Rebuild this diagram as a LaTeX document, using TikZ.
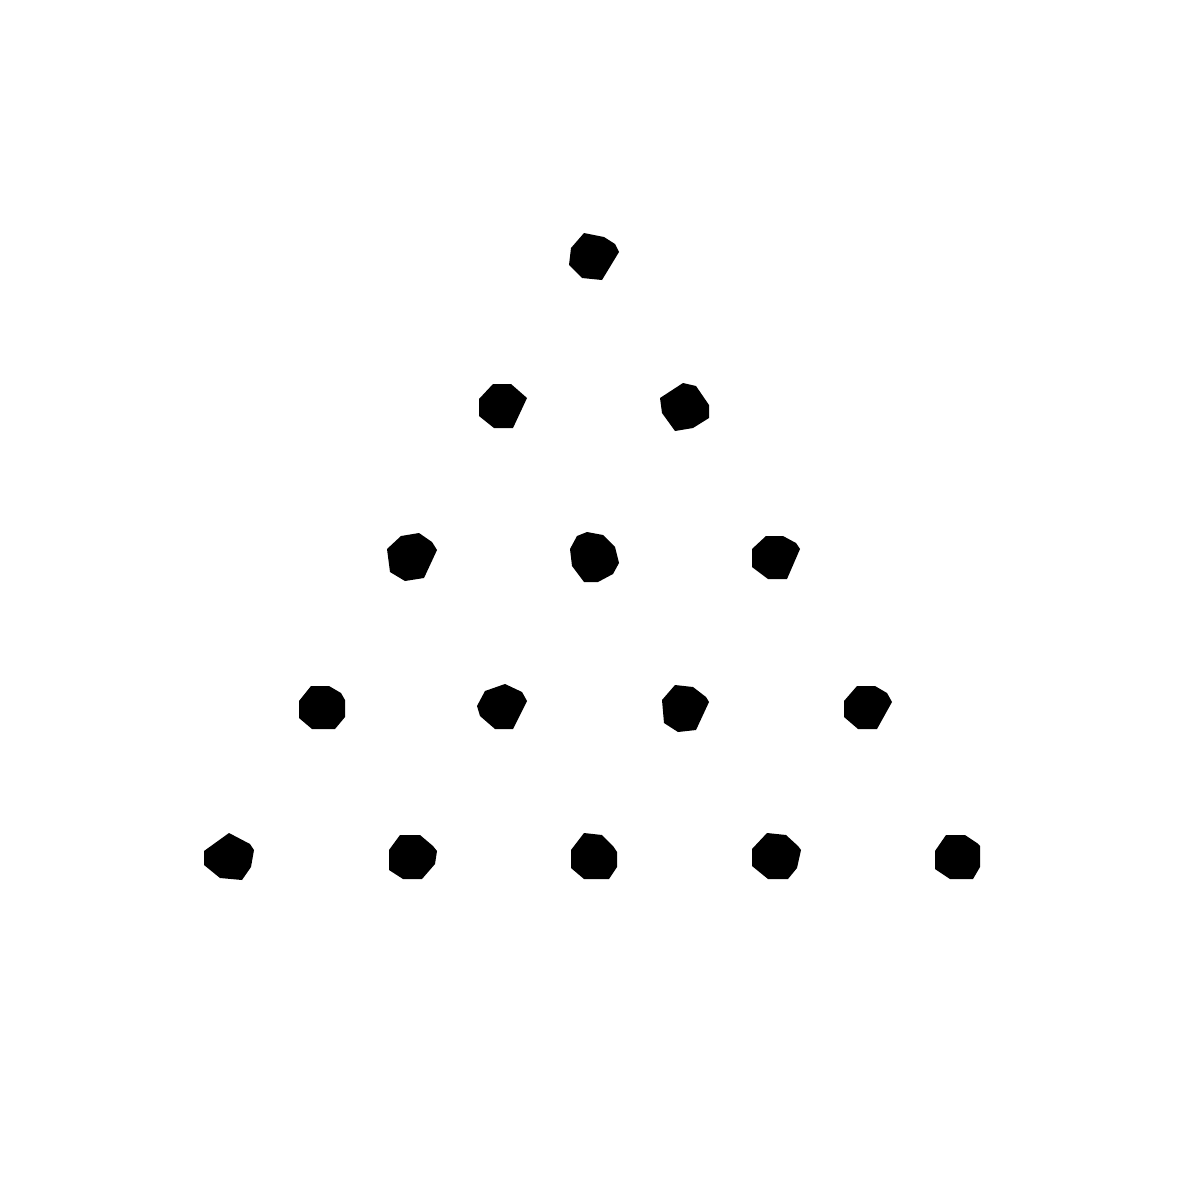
\documentclass[tikz,border=0pt]{standalone}
\begin{document}
\begin{tikzpicture}[x=0.01cm,y=-0.01cm,dotshape/.style={fill=black,draw=none}]
\useasboundingbox[fill=white] (0,0) rectangle (1200,1200);
% row 1
\fill[dotshape] (584,233)--(604,237)--(615,244)--(619,252)--(602,280)--(582,278)--(569,265)--(571,248)--cycle;
% row 2
\fill[dotshape] (493,384)--(511,384)--(527,398)--(513,428)--(494,428)--(479,416)--(479,399)--cycle;
\fill[dotshape] (683,383)--(696,386)--(709,405)--(709,418)--(693,428)--(675,431)--(662,413)--(660,398)--cycle;
% row 3
\fill[dotshape] (401,536)--(419,533)--(432,542)--(437,550)--(424,578)--(405,581)--(390,572)--(387,549)--cycle;
\fill[dotshape] (577,536)--(587,532)--(603,535)--(615,547)--(619,563)--(613,574)--(598,582)--(584,582)--(572,566)--(570,549)--cycle;
\fill[dotshape] (766,536)--(783,536)--(796,543)--(800,549)--(787,579)--(768,579)--(752,567)--(752,549)--cycle;
% row 4
\fill[dotshape] (311,686)--(329,686)--(341,693)--(345,700)--(345,717)--(335,729)--(312,729)--(299,718)--(299,701)--cycle;
\fill[dotshape] (485,691)--(505,684)--(522,692)--(527,701)--(513,729)--(495,729)--(480,716)--(477,706)--cycle;
\fill[dotshape] (675,685)--(693,687)--(706,697)--(709,702)--(696,730)--(678,732)--(664,723)--(662,700)--cycle;
\fill[dotshape] (857,686)--(875,686)--(887,693)--(892,702)--(877,729)--(858,729)--(844,717)--(844,701)--cycle;
% row 5
\fill[dotshape] (229,833)--(250,844)--(254,850)--(251,867)--(242,880)--(220,878)--(204,865)--(204,851)--cycle;
\fill[dotshape] (400,835)--(420,835)--(433,846)--(437,851)--(435,864)--(422,879)--(403,879)--(389,870)--(389,850)--cycle;
\fill[dotshape] (584,833)--(602,835)--(613,846)--(617,852)--(617,867)--(609,879)--(584,879)--(571,868)--(571,850)--cycle;
\fill[dotshape] (767,833)--(786,835)--(798,846)--(801,850)--(797,868)--(788,879)--(768,879)--(752,866)--(752,849)--cycle;
\fill[dotshape] (946,835)--(965,835)--(977,843)--(980,846)--(980,867)--(973,879)--(950,879)--(935,869)--(935,851)--cycle;
\end{tikzpicture}
\end{document}
